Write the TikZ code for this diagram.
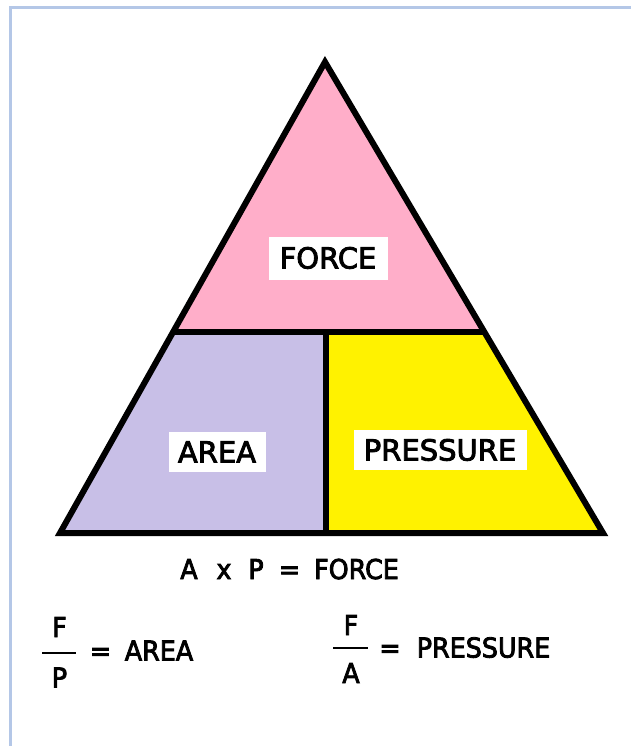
\documentclass[tikz,border=0pt]{standalone}
\usepackage{fontspec}
\setmainfont{DejaVu Sans}
\newfontfamily\lblfont{DejaVu Sans}[FakeBold=3]
\newfontfamily\eqfont{DejaVu Sans}[FakeStretch=0.93,FakeBold=3]
\definecolor{rose}{HTML}{FFAEC9}
\definecolor{lavender}{HTML}{C8BFE7}
\definecolor{paintyellow}{HTML}{FFF200}
\definecolor{frameblue}{HTML}{B4C7E7}
\begin{document}
\begin{tikzpicture}[x=1pt,y=-1pt,
  edge/.style={line width=6pt, line join=miter, line cap=rect},
  lbl/.style={fill=white, inner sep=0pt, font=\fontsize{29}{34}\lblfont, text height=21pt, text depth=0pt},
  eqtext/.style={inner sep=0pt, font=\fontsize{27.3}{32}\eqfont, text height=20pt, text depth=0pt},
  bar/.style={line width=2.5pt}
]
\useasboundingbox (0,0) rectangle (630,746);
% frame
\draw[frameblue, line width=3pt] (10,760) -- (10,8) -- (650,8);

% triangle corners
\coordinate (apex) at (325,62);
\coordinate (bl) at (60,533);
\coordinate (br) at (603,533);
\coordinate (ml) at (173,332);
\coordinate (mr) at (484,332);
\coordinate (mc) at (326,332);
\coordinate (bc) at (326,533);

% fills
\fill[rose] (apex) -- (ml) -- (mr) -- cycle;
\fill[lavender] (ml) -- (mc) -- (bc) -- (bl) -- cycle;
\fill[paintyellow] (mc) -- (mr) -- (br) -- (bc) -- cycle;

% outlines
\draw[edge] (apex) -- (br) -- (bl) -- cycle;
\draw[edge, line cap=butt] (ml) -- (mr);
\draw[edge, line cap=butt] (mc) -- (bc);

% labels
\node[lbl, minimum width=119pt, minimum height=43pt] (force) at (328,258) {FORCE};
\node[lbl, minimum width=97pt, minimum height=40pt] (area) at (217,452) {AREA};
\node[lbl, minimum width=173pt, minimum height=40pt] (pressure) at (440,450) {PRESSURE};

% A x P = FORCE
\node[eqtext] (eA) at (189,569) {A};
\node[eqtext] (ex) at (224,569) {x};
\node[eqtext] (eP) at (256,569) {P};
\node[eqtext] (eeq) at (289.5,569) {=};
\node[eqtext] (eF) at (356.5,569) {FORCE};

% F / P = AREA
\node[eqtext] (lF) at (59.5,627) {F};
\node[eqtext] (lP) at (59.5,677.5) {P};
\coordinate (lb1) at (42,653);
\coordinate (lb2) at (76,653);
\draw[bar] (lb1) -- (lb2);
\node[eqtext] (leq) at (100.5,650.5) {=};
\node[eqtext] (larea) at (159,650.5) {AREA};

% F / A = PRESSURE
\node[eqtext] (rF) at (351,625) {F};
\node[eqtext] (rA) at (351,673) {A};
\coordinate (rb1) at (333,648);
\coordinate (rb2) at (368,648);
\draw[bar] (rb1) -- (rb2);
\node[eqtext] (req) at (390,647.5) {=};
\node[eqtext] (rpress) at (483.5,647.5) {PRESSURE};
\end{tikzpicture}
\end{document}
